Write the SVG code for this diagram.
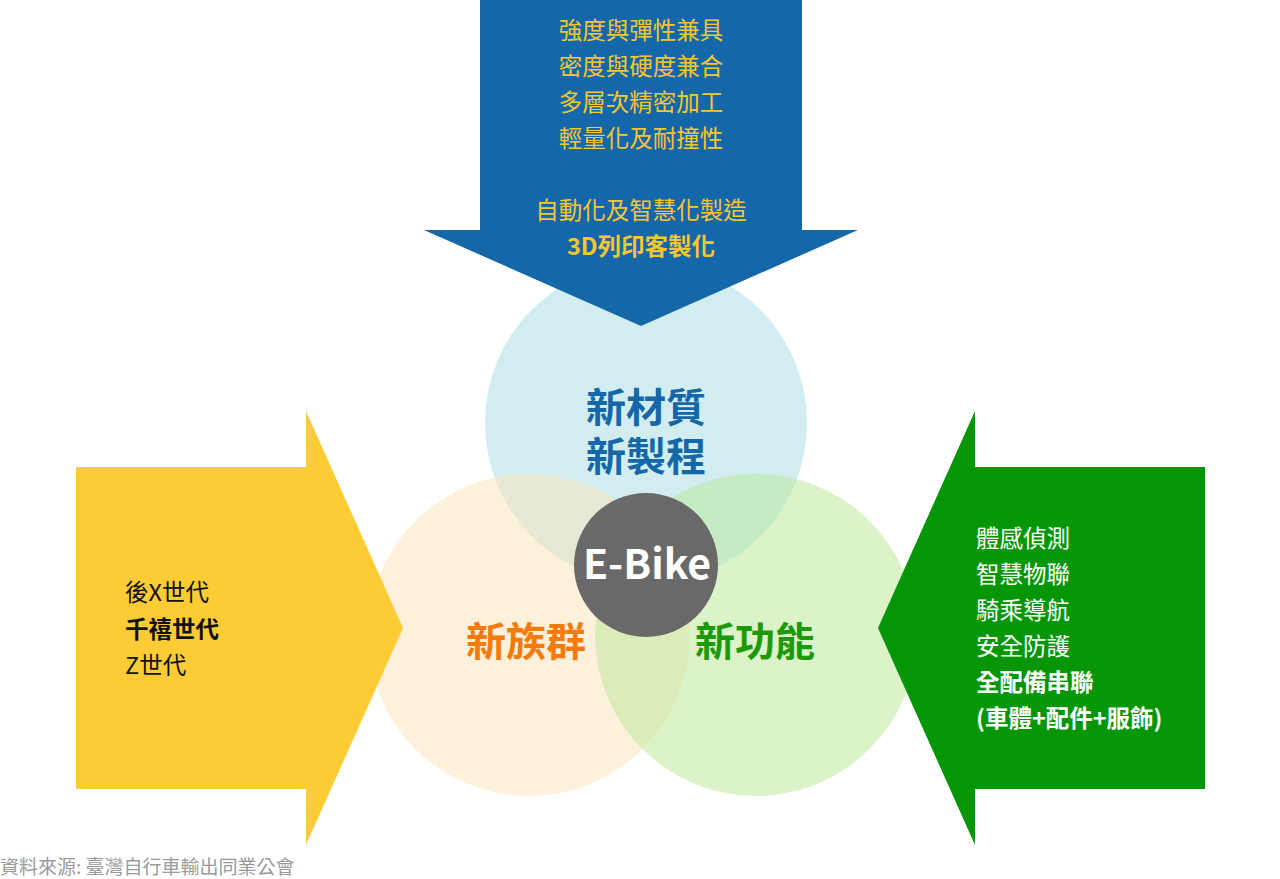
<svg xmlns="http://www.w3.org/2000/svg" width="1280" height="879" viewBox="0 0 1280 879">
<style>
text{font-family:"Noto Sans CJK TC","Noto Sans CJK SC",sans-serif}
.t{font-size:23.5px;fill:#F8C630;text-anchor:middle}
.l{font-size:23.5px;fill:#111}
.r{font-size:23.5px;fill:#fff}
.b{font-weight:bold}
.big{font-size:40px;font-weight:bold;text-anchor:middle}
</style>
<rect width="1280" height="879" fill="#fff"/>
<g id="circles">
<circle id="c-top" cx="646" cy="423" r="161" fill="#A6DCE2" fill-opacity="0.5"/>
<circle id="c-left" cx="529" cy="635" r="161" fill="#FBE3B8" fill-opacity="0.5"/>
<circle id="c-right" cx="756" cy="635" r="161" fill="#B9E796" fill-opacity="0.5"/>
</g>
<g id="arrow-top">
<polygon points="480,0 802,0 802,230 858,230 641,326 424,230 480,230" fill="#1467A8"/>
<text class="t" x="641" y="39">強度與彈性兼具</text>
<text class="t" x="641" y="75">密度與硬度兼合</text>
<text class="t" x="641" y="111">多層次精密加工</text>
<text class="t" x="641" y="147">輕量化及耐撞性</text>
<text class="t" x="641" y="219">自動化及智慧化製造</text>
<text class="t b" x="641" y="255">3D列印客製化</text>
</g>
<g id="arrow-left">
<polygon points="76,467 306,467 306,411 403,628 306,845 306,789 76,789" fill="#FDCB34"/>
<text class="l" x="125" y="601">後X世代</text>
<text class="l b" x="125" y="638">千禧世代</text>
<text class="l" x="125" y="674">Z世代</text>
</g>
<g id="arrow-right">
<polygon points="1205,467 975,467 975,411 878,628 975,845 975,789 1205,789" fill="#049604"/>
<text class="r" x="976" y="547">體感偵測</text>
<text class="r" x="976" y="583">智慧物聯</text>
<text class="r" x="976" y="619">騎乘導航</text>
<text class="r" x="976" y="655">安全防護</text>
<text class="r b" x="976" y="691">全配備串聯</text>
<text class="r b" x="976" y="727">(車體+配件+服飾)</text>
</g>
<g id="labels">
<text class="big" x="646" y="422" fill="#1467A8">新材質</text>
<text class="big" x="646" y="471" fill="#1467A8">新製程</text>
<text class="big" x="526" y="656" fill="#F47A0A">新族群</text>
<text class="big" x="755" y="656" fill="#1D9A0A">新功能</text>
</g>
<g id="ebike">
<circle cx="646" cy="565" r="72" fill="#696969"/>
<text x="647" y="579" font-size="41" font-weight="bold" fill="#fff" text-anchor="middle">E-Bike</text>
</g>
<text x="0" y="874" font-size="19" fill="#9A9A9A">資料來源: 臺灣自行車輸出同業公會</text>
</svg>
